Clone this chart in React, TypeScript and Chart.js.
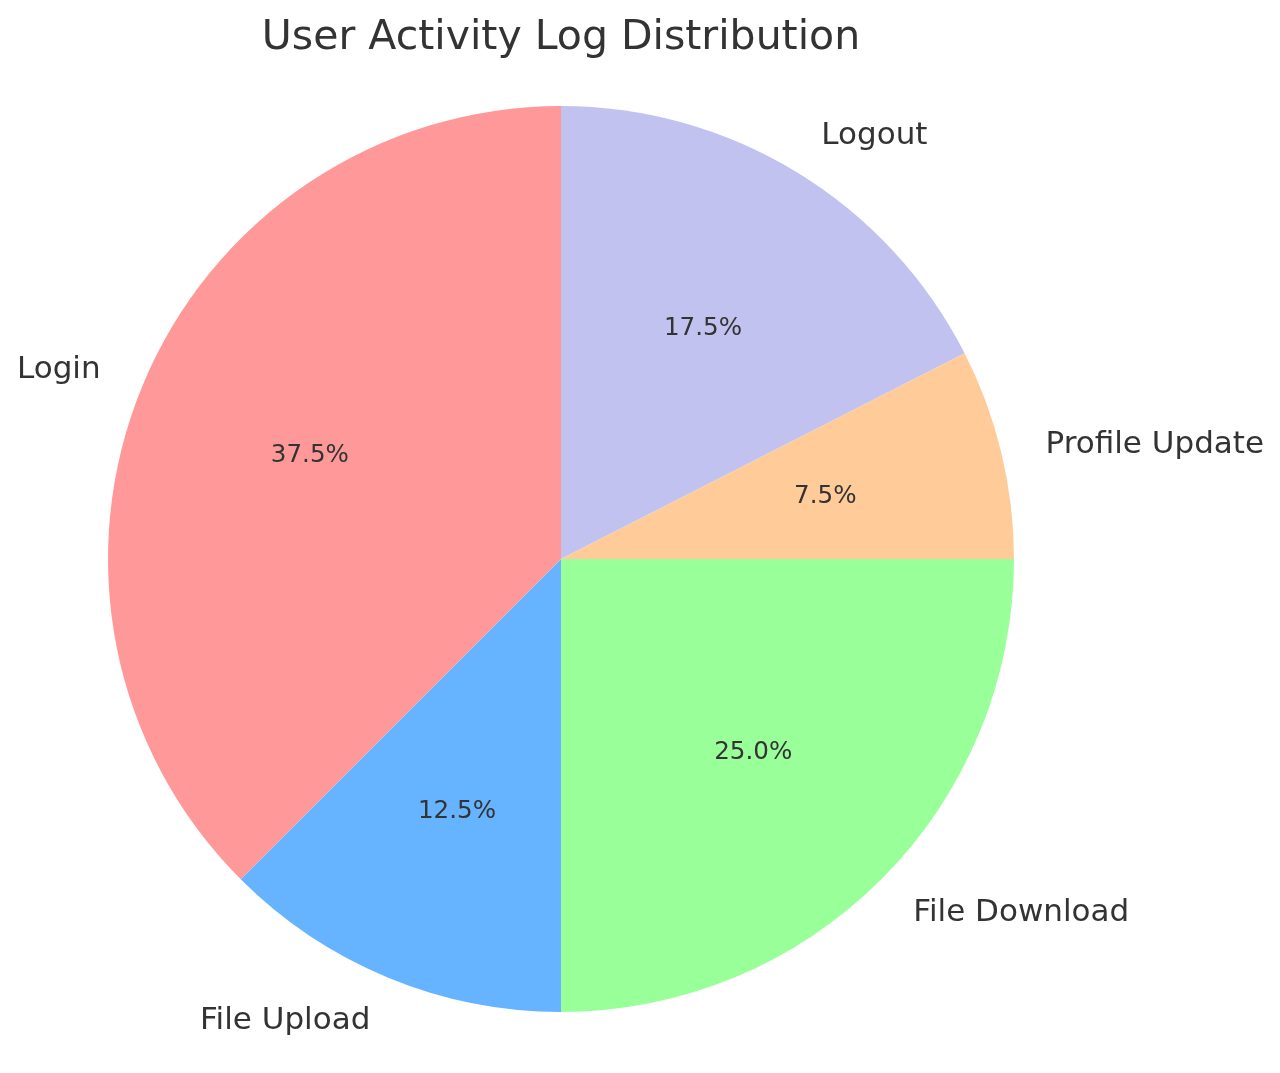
import React, { useEffect, useRef } from "react";
import { Chart, registerables } from "chart.js";

Chart.register(...registerables);

const categories = ["Login", "File Upload", "File Download", "Profile Update", "Logout"];
const shares = [37.5, 12.5, 25.0, 7.5, 17.5];
const sliceColors = ["#ff9999", "#66b3ff", "#99ff99", "#ffcc99", "#c2c2f0"];
const chartTitle = "User Activity Log Distribution";

const FONT = "'DejaVu Sans', sans-serif";
const TEXT = "#333333";

// Chart.js draws clockwise; matplotlib draws counter-clockwise from the top.
const drawLabels = [...categories].reverse();
const drawValues = [...shares].reverse();
const drawColors = [...sliceColors].reverse();

const labelPlugin = {
  id: "pieLabels",
  afterDraw(chart: any) {
    const ctx = chart.ctx;
    const meta = chart.getDatasetMeta(0);
    const total = drawValues.reduce((a, b) => a + b, 0);
    ctx.save();
    ctx.fillStyle = TEXT;
    meta.data.forEach((arc: any, i: number) => {
      const mid = (arc.startAngle + arc.endAngle) / 2;
      const r = arc.outerRadius;
      const cx = arc.x;
      const cy = arc.y;
      const c = Math.cos(mid);
      const s = Math.sin(mid);
      // category label at 1.1 r
      ctx.font = `31px ${FONT}`;
      ctx.textBaseline = "middle";
      ctx.textAlign = c >= 0 ? "left" : "right";
      ctx.fillText(drawLabels[i], cx + 1.1 * r * c, cy + 1.1 * r * s + 2);
      // percentage at 0.6 r
      ctx.font = `24.6px ${FONT}`;
      ctx.textAlign = "center";
      const pct = ((drawValues[i] / total) * 100).toFixed(1) + "%";
      ctx.fillText(pct, cx + 0.6 * r * c, cy + 0.6 * r * s + 1);
    });
    // title
    ctx.font = `41px ${FONT}`;
    ctx.textAlign = "center";
    ctx.textBaseline = "middle";
    ctx.fillText(chartTitle, meta.data[0].x, 38);
    ctx.restore();
  },
};

export default function App() {
  const ref = useRef<HTMLCanvasElement>(null);
  useEffect(() => {
    if (!ref.current) return;
    const chart = new Chart(ref.current, {
      type: "pie",
      data: {
        labels: drawLabels,
        datasets: [
          {
            data: drawValues,
            backgroundColor: drawColors,
            borderWidth: 0,
          },
        ],
      },
      options: {
        responsive: false,
        animation: false,
        rotation: 0,
        layout: { padding: { left: 108, right: 266, top: 106, bottom: 61 } },
        plugins: {
          legend: { display: false },
          tooltip: { enabled: false },
          title: { display: false },
        },
      },
      plugins: [labelPlugin],
    });
    return () => chart.destroy();
  }, []);
  return (
    <div style={{ position: "fixed", left: 0, top: 0, width: 1280, height: 1073, background: "#fff" }}>
      <canvas ref={ref} width={1280} height={1073} style={{ width: 1280, height: 1073 }} />
    </div>
  );
}
